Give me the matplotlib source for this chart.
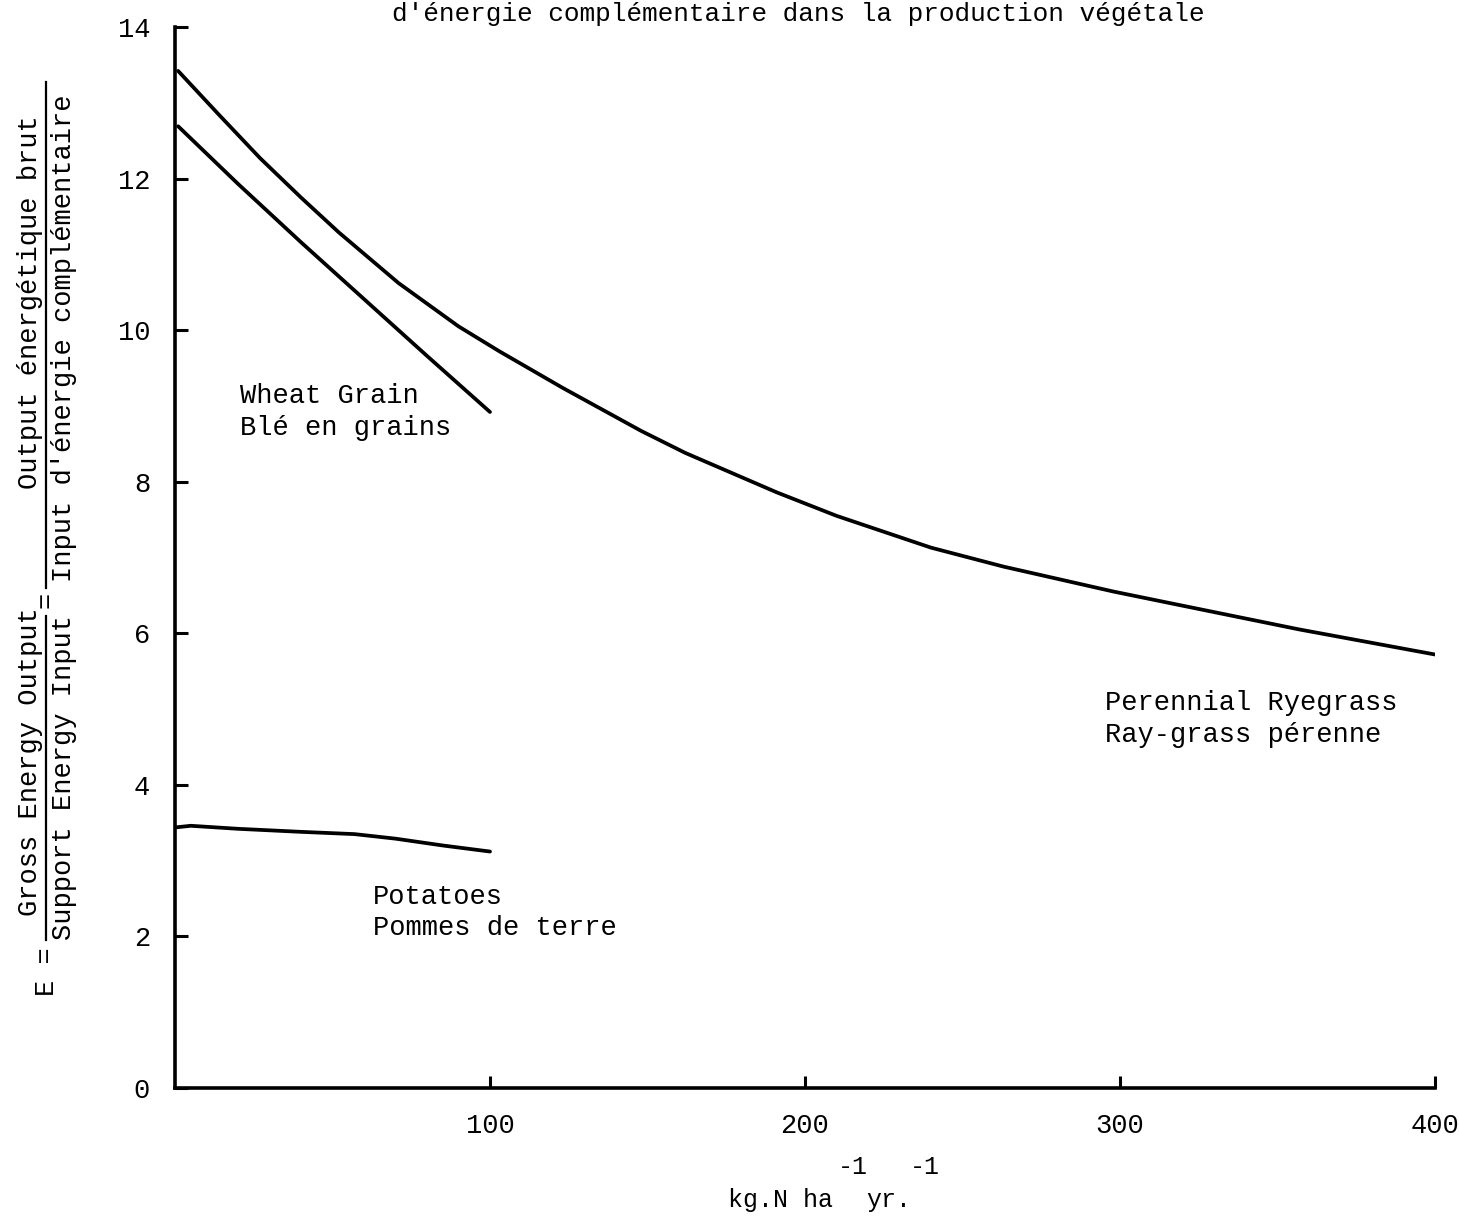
import matplotlib
matplotlib.use("Agg")
import matplotlib.pyplot as plt
from matplotlib.lines import Line2D

plt.rcParams['font.family'] = ['Liberation Mono', 'DejaVu Sans Mono']

# --- data ---
rye_x = [1, 14, 27, 40, 52, 71, 90, 103, 123, 148, 162, 191, 210, 240, 263, 298, 318, 357, 400]
rye_E = [13.42, 12.84, 12.27, 11.75, 11.29, 10.62, 10.05, 9.72, 9.24, 8.67, 8.38, 7.86, 7.55,
         7.13, 6.88, 6.55, 6.38, 6.05, 5.72]

wheat_x = [1, 20, 40, 60, 80, 100]
wheat_E = [12.69, 11.93, 11.16, 10.41, 9.66, 8.92]

potato_x = [0.5, 5, 20, 40, 57, 70, 85, 100]
potato_E = [3.44, 3.46, 3.42, 3.38, 3.35, 3.29, 3.20, 3.12]

x_ticks = [100, 200, 300, 400]
y_ticks = [0, 2, 4, 6, 8, 10, 12, 14]

W, H = 1459, 1223
fig = plt.figure(figsize=(W / 100, H / 100), dpi=100)
ax = fig.add_axes([175 / W, 1 - 1088 / H, (1435 - 175) / W, (1088 - 27) / H])

lw = 2.7
for xs, ys in [(rye_x, rye_E), (wheat_x, wheat_E), (potato_x, potato_E)]:
    ax.plot(xs, ys, color='black', lw=lw, solid_capstyle='round', solid_joinstyle='round')

ax.set_xlim(0, 400)
ax.set_ylim(0, 14)
ax.set_xticks(x_ticks)
ax.set_yticks(y_ticks)
ax.set_xticklabels([str(v) for v in x_ticks])
ax.set_yticklabels([str(v) for v in y_ticks])
for s in ['top', 'right']:
    ax.spines[s].set_visible(False)
for s in ['left', 'bottom']:
    ax.spines[s].set_linewidth(2.6)
ax.tick_params(axis='both', direction='in', length=9, width=2.2, labelsize=19.5, pad=18)
ax.patch.set_alpha(0)

fs = 19.5
def ftxt(px, py, s, size=fs, **kw):
    fig.text(px / W, 1 - py / H, s, fontsize=size, va='center', **kw)

# curve labels
ftxt(240, 396, "Wheat Grain")
ftxt(240, 428, "Blé en grains")
ftxt(1105, 703, "Perennial Ryegrass")
ftxt(1105, 735, "Ray-grass pérenne")
ftxt(373, 897, "Potatoes")
ftxt(373, 928, "Pommes de terre")

# title (partially cut at top as in the reference)
fig.text(798 / W, 1 - 14 / H, "d'énergie complémentaire dans la production végétale",
         fontsize=18.8, ha='center', va='center')

# x label with raised exponents
xs_fs = 18
ftxt(728, 1200, "kg.N ha", size=xs_fs, ha='left')
ftxt(838, 1167, "-1", size=xs_fs, ha='left')
ftxt(866, 1200, "yr.", size=xs_fs, ha='left')
ftxt(910, 1167, "-1", size=xs_fs, ha='left')

# y label: E = fraction = fraction
def rtxt(px, py, s):
    fig.text(px / W, 1 - py / H, s, fontsize=fs, rotation=90, ha='center', va='center')

rtxt(47, 972, "E =")
rtxt(30, 762, "Gross Energy Output")
rtxt(64, 778, "Support Energy Input")
rtxt(47, 600, "=")
rtxt(30, 302, "Output énergétique brut")
rtxt(64, 338, "Input d'énergie complémentaire")

fig.add_artist(Line2D([46 / W, 46 / W], [1 - 940 / H, 1 - 616 / H], color='black', lw=1.6,
                      transform=fig.transFigure))
fig.add_artist(Line2D([46 / W, 46 / W], [1 - 588 / H, 1 - 82 / H], color='black', lw=1.6,
                      transform=fig.transFigure))

fig.savefig("out.png", dpi=100)
